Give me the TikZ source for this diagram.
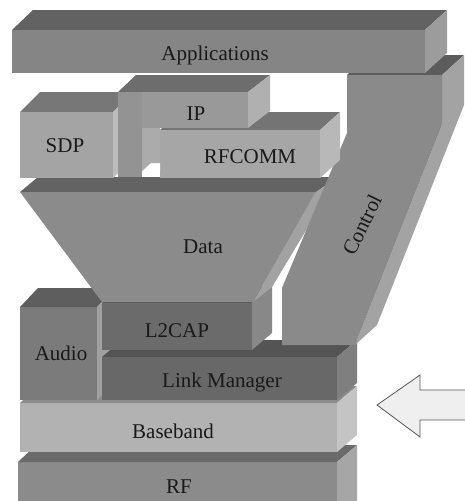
\documentclass[tikz,border=0pt]{standalone}
\usepackage{fontspec}
\setmainfont{Liberation Serif}
\definecolor{appF}{HTML}{858585}\definecolor{appT}{HTML}{626262}\definecolor{appS}{HTML}{9C9C9C}
\definecolor{ctlF}{HTML}{8A8A8A}\definecolor{ctlT}{HTML}{5C5C5C}\definecolor{ctlS}{HTML}{A3A3A3}
\definecolor{sdpF}{HTML}{A4A4A4}\definecolor{sdpT}{HTML}{777777}\definecolor{sdpS}{HTML}{BCBCBC}
\definecolor{ipF}{HTML}{999999}\definecolor{ipP}{HTML}{939393}\definecolor{ipT}{HTML}{6D6D6D}\definecolor{ipS}{HTML}{B0B0B0}
\definecolor{rfcF}{HTML}{A6A6A6}\definecolor{rfcT}{HTML}{747474}\definecolor{rfcS}{HTML}{B8B8B8}
\definecolor{litP}{HTML}{ABABAB}
\definecolor{datF}{HTML}{8B8B8B}\definecolor{datT}{HTML}{636363}\definecolor{datS}{HTML}{A2A2A2}
\definecolor{audF}{HTML}{7B7B7B}\definecolor{audT}{HTML}{5E5E5E}\definecolor{audS}{HTML}{A0A0A0}
\definecolor{l2F}{HTML}{6B6B6B}\definecolor{l2T}{HTML}{555555}\definecolor{l2S}{HTML}{888888}
\definecolor{lmF}{HTML}{686868}\definecolor{lmT}{HTML}{545454}\definecolor{lmS}{HTML}{7F7F7F}
\definecolor{bbF}{HTML}{B2B2B2}\definecolor{bbT}{HTML}{8C8C8C}\definecolor{bbS}{HTML}{C4C4C4}
\definecolor{rfF}{HTML}{8B8B8B}\definecolor{rfT}{HTML}{6A6A6A}\definecolor{rfS}{HTML}{A6A6A6}
\definecolor{arrF}{HTML}{EFEFEF}\definecolor{arrD}{HTML}{555555}
\begin{document}
\begin{tikzpicture}[x=1pt,y=-1pt,
  lbl/.style={font=\fontsize{21}{25}\selectfont, anchor=base, inner sep=0pt, text=black!90}]
\useasboundingbox (0,0) rectangle (465,501);
% RF
\fill[rfF] (18,462) rectangle (337,520);
\fill[rfT] (18,462) -- (36,445) -- (357,445) -- (337,462) -- cycle;
\fill[rfS] (337,462) -- (357,445) -- (357,520) -- (337,520) -- cycle;
% Baseband
\fill[bbF] (20,403) rectangle (337,452);
\fill[bbT] (20,403) -- (38,386) -- (357,386) -- (337,403) -- cycle;
\fill[bbS] (337,403) -- (357,386) -- (357,435) -- (337,452) -- cycle;
% Audio
\fill[audF] (20,307) rectangle (97,400);
\fill[audT] (20,307) -- (38,288) -- (117,288) -- (97,307) -- cycle;
\fill[audS] (97,307) -- (117,288) -- (117,381) -- (97,400) -- cycle;
% Link Manager
\fill[lmT] (102,357) -- (122,340) -- (357,340) -- (337,357) -- cycle;
\fill[lmS] (337,357) -- (357,340) -- (357,383) -- (337,400) -- cycle;
\fill[lmF] (102,357) rectangle (337,400);
% L2CAP
\fill[l2T] (102,303) -- (122,286) -- (272,286) -- (252,303) -- cycle;
\fill[l2S] (252,303) -- (272,286) -- (272,333) -- (252,350) -- cycle;
\fill[l2F] (102,303) rectangle (252,350);
% Data
\fill[datT] (20,192) -- (38,177) -- (338,177) -- (316,192) -- cycle;
\fill[datS] (316,192) -- (338,177) -- (272,287) -- (253,302) -- cycle;
\fill[datF] (20,192) -- (316,192) -- (253,302) -- (102,302) -- cycle;
% Control
\fill[ctlT] (347,75) -- (369,55) -- (464,55) -- (442,75) -- cycle;
\fill[ctlS] (442,75) -- (464,55) -- (464,105) -- (377,325) -- (355,345) -- (442,125) -- cycle;
\fill[ctlF] (347,75) -- (442,75) -- (442,125) -- (355,345) -- (282,345) -- (282,288) -- (347,133) -- cycle;
% SDP
\fill[sdpT] (20,112) -- (40,92) -- (133,92) -- (113,112) -- cycle;
\fill[sdpS] (113,112) -- (133,92) -- (133,158) -- (113,178) -- cycle;
\fill[sdpF] (20,112) rectangle (113,178);
% RFCOMM
\fill[rfcT] (160,130) -- (180,112) -- (340,112) -- (320,130) -- cycle;
\fill[rfcS] (320,130) -- (340,112) -- (340,160) -- (320,178) -- cycle;
\fill[rfcF] (160,130) rectangle (320,178);
% IP
\fill[ipT] (118,92) -- (136,75) -- (270,75) -- (248,92) -- cycle;
\fill[ipS] (248,92) -- (270,75) -- (270,111) -- (248,128) -- cycle;
\fill[ipF] (142,92) rectangle (248,128);
\fill[ipP] (118,92) rectangle (142,177);
\fill[litP] (142,128) -- (160,128) -- (160,163) -- (151,163) -- (142,171) -- cycle;
\fill[white] (151,171) -- (160,163) -- (160,171) -- cycle;
% Applications
\fill[appT] (12,30) -- (33,10) -- (447,10) -- (425,30) -- cycle;
\fill[appS] (425,30) -- (447,10) -- (447,53) -- (425,73) -- cycle;
\fill[appF] (12,30) rectangle (425,73);
% Arrow
\filldraw[fill=arrF, draw=arrD, line width=0.8pt, line join=miter]
  (466,390) -- (420,390) -- (420,375) -- (377,405) -- (420,437) -- (420,420) -- (466,420);
% Labels
\node[lbl] (app) at (215,60) {Applications};
\node[lbl] (ip) at (196,120) {IP};
\node[lbl] (sdp) at (65,152) {SDP};
\node[lbl] (rfcomm) at (250,163) {RFCOMM};
\node[lbl] (data) at (203,253) {Data};
\node[lbl, anchor=center, rotate=64] (control) at (362,225) {Control};
\node[lbl] (l2cap) at (177,337) {L2CAP};
\node[lbl] (audio) at (61,360) {Audio};
\node[lbl] (lm) at (222,387) {Link Manager};
\node[lbl] (bb) at (173,438) {Baseband};
\node[lbl] (rf) at (179,493) {RF};
\end{tikzpicture}
\end{document}
